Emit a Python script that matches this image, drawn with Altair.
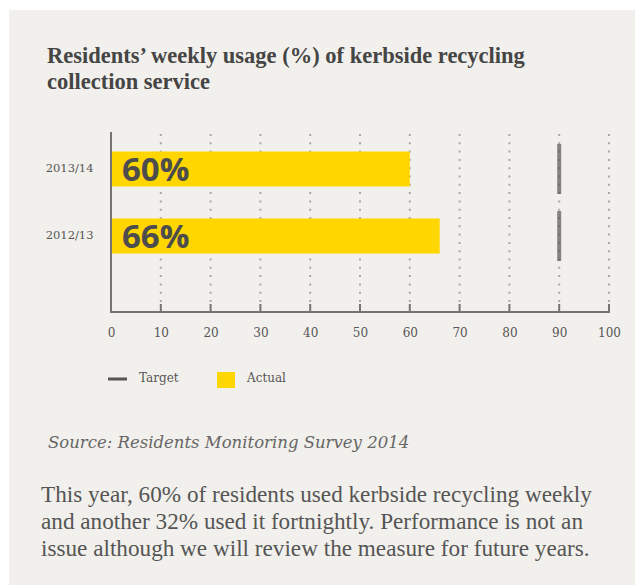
import altair as alt
import pandas as pd

# ---- data ----
years = ["2013/14", "2012/13"]
actual = [60, 66]
target = [90, 90]
tick_values = [0, 10, 20, 30, 40, 50, 60, 70, 80, 90, 100]
title_lines = ["Residents\u2019 weekly usage (%) of kerbside recycling",
               "collection service"]
legend_labels = ["Target", "Actual"]
source_text = "Source: Residents Monitoring Survey 2014"
body_lines = ["This year, 60% of residents used kerbside recycling weekly",
              "and another 32% used it fortnightly. Performance is not an",
              "issue although we will review the measure for future years."]

df = pd.DataFrame({"year": years, "actual": actual, "target": target,
                   "label": [f"{v}%" for v in actual]})
grid_df = pd.DataFrame({"t": tick_values[1:]})
tick_df = pd.DataFrame({"t": tick_values})
one = pd.DataFrame({"a": [0]})

W, H = 498, 180
BG = "#f2f0ec"
YELLOW = "#ffd600"
DARK = "#555555"
AXIS = "#737373"
SERIF = "DejaVu Serif"

xscale = alt.Scale(domain=[0, 100], nice=False, zero=True)
yscale = alt.Scale(domain=years, range=[3.5, 137.5], paddingInner=0, paddingOuter=0)

xaxis = alt.Axis(values=tick_values, title=None, grid=False, ticks=False,
                 domain=False, labelFlush=False,
                 labelPadding=15, labelFont=SERIF, labelFontSize=12,
                 labelColor=DARK)
yaxis = alt.Axis(title=None, domain=False, ticks=False, grid=False,
                 labelPadding=18, labelFont=SERIF, labelFontSize=11.5,
                 labelColor=DARK)

X = lambda f: alt.X(f, scale=xscale, axis=xaxis, title=None)
Y = alt.Y("year:N", scale=yscale, sort=years, axis=yaxis, title=None)

# white margins (top and left) over the beige background
white_left = alt.Chart(one).mark_rect(color="white").encode(
    x=alt.value(-111), x2=alt.value(-102), y=alt.value(-132), y2=alt.value(453))
white_top = alt.Chart(one).mark_rect(color="white").encode(
    x=alt.value(-111), x2=alt.value(524), y=alt.value(-132), y2=alt.value(-122))

grid = alt.Chart(grid_df).mark_rule(color="#a8a8a8", strokeWidth=2, strokeDash=[2, 6.3]).encode(
    x=X("t:Q"), y=alt.value(2), y2=alt.value(172))

ticks = alt.Chart(tick_df).mark_rule(color=AXIS, strokeWidth=2).encode(
    x=X("t:Q"), y=alt.value(172), y2=alt.value(180))

yline = alt.Chart(one).mark_rule(color=AXIS, strokeWidth=2).encode(
    x=alt.value(0), y=alt.value(0), y2=alt.value(181))
xline = alt.Chart(one).mark_rule(color=AXIS, strokeWidth=2).encode(
    x=alt.value(-1), x2=alt.value(W + 1), y=alt.value(180))

bars = alt.Chart(df).mark_bar(size=35, color=YELLOW).encode(
    x=X("actual:Q"), y=Y)

labels = alt.Chart(df).mark_text(align="left", baseline="middle", dx=11, dy=2,
                                 font="Open Sans", fontWeight="bold", fontSize=33,
                                 color="#4d4d4d").encode(
    x=alt.value(0), y=Y, text="label:N")

targets = alt.Chart(df).mark_tick(size=50, thickness=4, color=DARK).encode(
    x=X("target:Q"), y=Y)

title = alt.Chart(one).mark_text(align="left", baseline="alphabetic",
                                 font="Liberation Serif", fontWeight="bold",
                                 fontSize=22.5, lineHeight=26, color="#454545").encode(
    x=alt.value(-64), y=alt.value(-69), text=alt.value(title_lines))

leg_line = alt.Chart(one).mark_rule(color=DARK, strokeWidth=3).encode(
    x=alt.value(-3), x2=alt.value(16), y=alt.value(247))
leg_t1 = alt.Chart(one).mark_text(align="left", baseline="middle", font=SERIF,
                                  fontSize=12, color=DARK).encode(
    x=alt.value(28), y=alt.value(246), text=alt.value(legend_labels[0]))
leg_sq = alt.Chart(one).mark_rect(color=YELLOW).encode(
    x=alt.value(106), x2=alt.value(124), y=alt.value(240), y2=alt.value(256))
leg_t2 = alt.Chart(one).mark_text(align="left", baseline="middle", font=SERIF,
                                  fontSize=12, color=DARK).encode(
    x=alt.value(136), y=alt.value(246), text=alt.value(legend_labels[1]))

source = alt.Chart(one).mark_text(align="left", baseline="alphabetic", font=SERIF,
                                  fontStyle="italic", fontSize=16.5, color="#666666").encode(
    x=alt.value(-63), y=alt.value(316), text=alt.value(source_text))

body = alt.Chart(one).mark_text(align="left", baseline="alphabetic", font="Liberation Serif",
                                fontSize=23.2, lineHeight=27, color=DARK).encode(
    x=alt.value(-70), y=alt.value(370), text=alt.value(body_lines))

chart = alt.layer(white_left, white_top, grid, bars, ticks, yline, xline, targets, labels,
                  title, leg_line, leg_t1, leg_sq, leg_t2, source, body).properties(
    width=W, height=H,
    autosize=alt.AutoSizeParams(type="none"),
    padding={"left": 111, "top": 132, "right": 26, "bottom": 273},
    background=BG,
).configure_view(stroke=None)

chart.save("out.html", embed_options={"renderer": "svg", "actions": False})
